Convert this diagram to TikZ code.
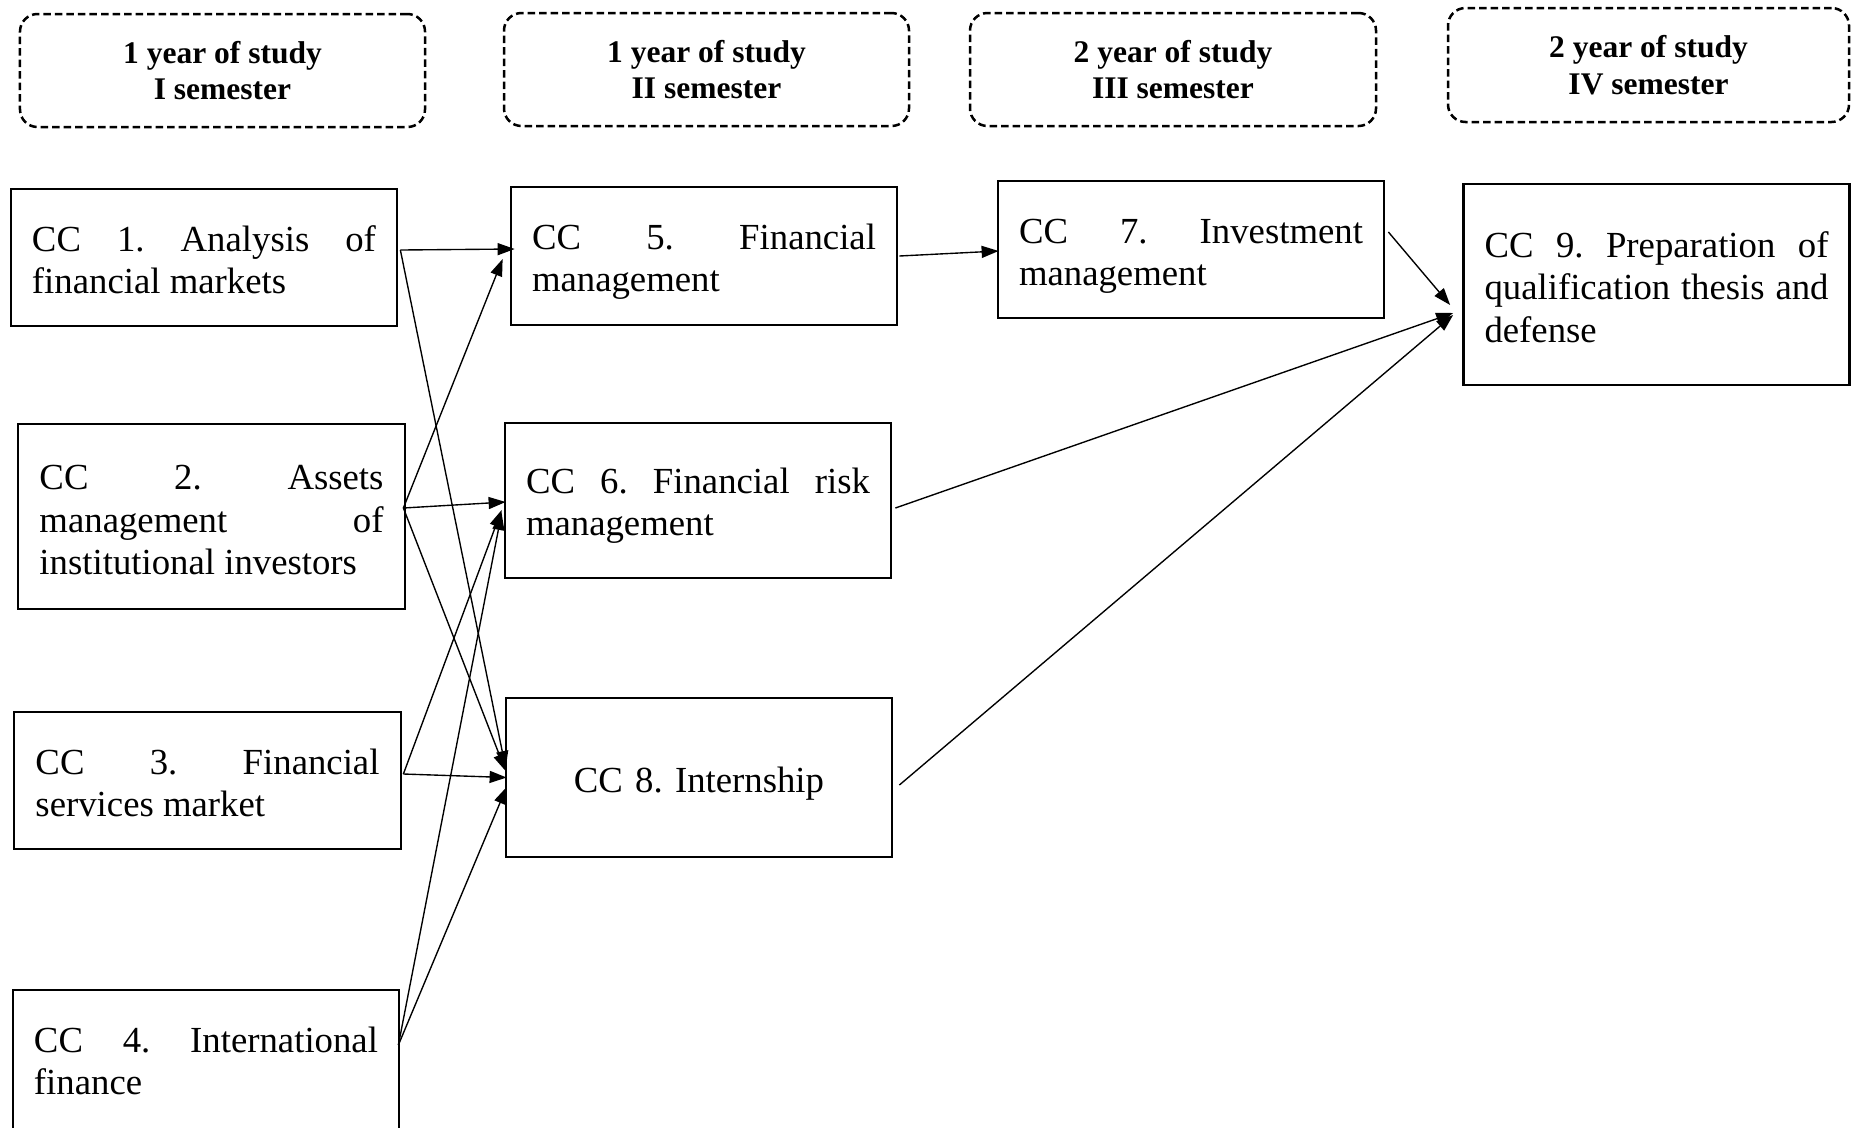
\documentclass[tikz,border=0pt]{standalone}
\usepackage{fontspec}
\setmainfont{Liberation Serif}
\usetikzlibrary{arrows.meta}
\frenchspacing
\begin{document}
\begin{tikzpicture}[x=0.4pt,y=-0.4pt,
  hdr/.style={draw, line width=1pt, dash pattern=on 3pt off 1.6pt, rounded corners=7pt,
    align=center, font=\bfseries\fontsize{12.6}{14.6}\selectfont, inner sep=0pt},
  cbox/.style={draw, line width=1.1pt, text width=137.6pt, align=justify, inner xsep=8.4pt,
    inner ysep=0pt, minimum width=154.4pt, text height=12pt, font=\fontsize{14.7}{17}\selectfont},
  arr/.style={line width=0.55pt, -{Triangle[length=6.8pt,width=4.8pt]}}
]
\useasboundingbox (0,0) rectangle (1851,1127);
\fill[white] (0,0) rectangle (1851,1127);
\clip (0,0) rectangle (1851,1127);

% headers
\node[hdr, minimum width=162pt, minimum height=45.2pt] (h1) at (222.5,70.5) {1 year of study\\I semester};
\node[hdr, minimum width=162pt, minimum height=45.2pt] (h2) at (706.5,69.5) {1 year of study\\II semester};
\node[hdr, minimum width=162.4pt, minimum height=45.2pt] (h3) at (1173,69.5) {2 year of study\\III semester};
\node[hdr, minimum width=160.4pt, minimum height=45.6pt] (h4) at (1648.5,65) {2 year of study\\IV semester};

% course boxes
\node[cbox, minimum height=54.8pt] (cc1) at (204,257.5) {CC 1. Analysis of\linebreak financial markets};
\node[cbox, minimum width=154.8pt, minimum height=74pt, text height=12.6pt] (cc2) at (211.5,516.5) {CC 2. Assets\linebreak management of\linebreak institutional investors};
\node[cbox, minimum width=154.8pt, minimum height=54.8pt] (cc3) at (207.5,780.5) {CC 3. Financial\linebreak services market};
\node[cbox, minimum height=56.8pt, text height=10pt] (cc4) at (206,1061) {CC 4. International\linebreak finance};
\node[cbox, minimum height=55.2pt, text height=14.6pt] (cc5) at (704,256) {CC 5. Financial\linebreak management};
\node[cbox, minimum height=62pt, text height=14.4pt] (cc6) at (698,500.5) {CC 6. Financial risk\linebreak management};
\node[cbox, minimum height=63.6pt, align=center, text height=15pt] (cc8) at (699,777.5) {CC 8. Internship};
\node[cbox, minimum height=54.8pt, text height=15.2pt] (cc7) at (1191,249.5) {CC 7. Investment\linebreak management};
\node[cbox, minimum height=80.4pt, text height=12.4pt] (cc9) at (1656.5,284.5) {CC 9. Preparation of\linebreak qualification thesis and\linebreak defense};

% connectors
\draw[arr] ([xshift=0.8pt,yshift=3pt]cc1.east) -- ([xshift=2pt,yshift=2.8pt]cc5.west);
\draw[arr] ([xshift=0.8pt,yshift=3pt]cc1.east) -- ([xshift=0.4pt,yshift=3.8pt]cc8.west);
\draw[arr] ([xshift=-1.2pt,yshift=3.4pt]cc2.east) -- ([xshift=-2.8pt,yshift=-1.2pt]cc5.west);
\draw[arr] ([xshift=-1.2pt,yshift=3.4pt]cc2.east) -- ([xshift=0.8pt,yshift=-0.6pt]cc6.west);
\draw[arr] ([xshift=-1.2pt,yshift=3.4pt]cc2.east) -- ([xshift=0.4pt,yshift=2.6pt]cc8.west);
\draw[arr] ([xshift=0.4pt,yshift=2.6pt]cc3.east) -- ([xshift=-0.8pt,yshift=-3.8pt]cc6.west);
\draw[arr] ([xshift=0.4pt,yshift=2.6pt]cc3.east) -- ([xshift=0.8pt]cc8.west);
\draw[arr] ([xshift=-0.8pt,yshift=6.4pt]cc4.east) -- ([xshift=-0.8pt,yshift=-5pt]cc6.west);
\draw[arr] ([xshift=-0.8pt,yshift=6.4pt]cc4.east) -- ([xshift=0.8pt,yshift=-3.8pt]cc8.west);
\draw[arr] ([xshift=0.4pt]cc5.east) -- ([xshift=0.8pt,yshift=-0.6pt]cc7.west);
\draw[arr] ([xshift=1.2pt,yshift=7pt]cc7.east) -- ([xshift=-4.8pt,yshift=-8.2pt]cc9.west);
\draw[arr] ([xshift=1.2pt,yshift=-3pt]cc6.east) -- ([xshift=-3.6pt,yshift=-11.4pt]cc9.west);
\draw[arr] ([xshift=2.4pt,yshift=-3pt]cc8.east) -- ([xshift=-3.6pt,yshift=-12.2pt]cc9.west);
\end{tikzpicture}
\end{document}
